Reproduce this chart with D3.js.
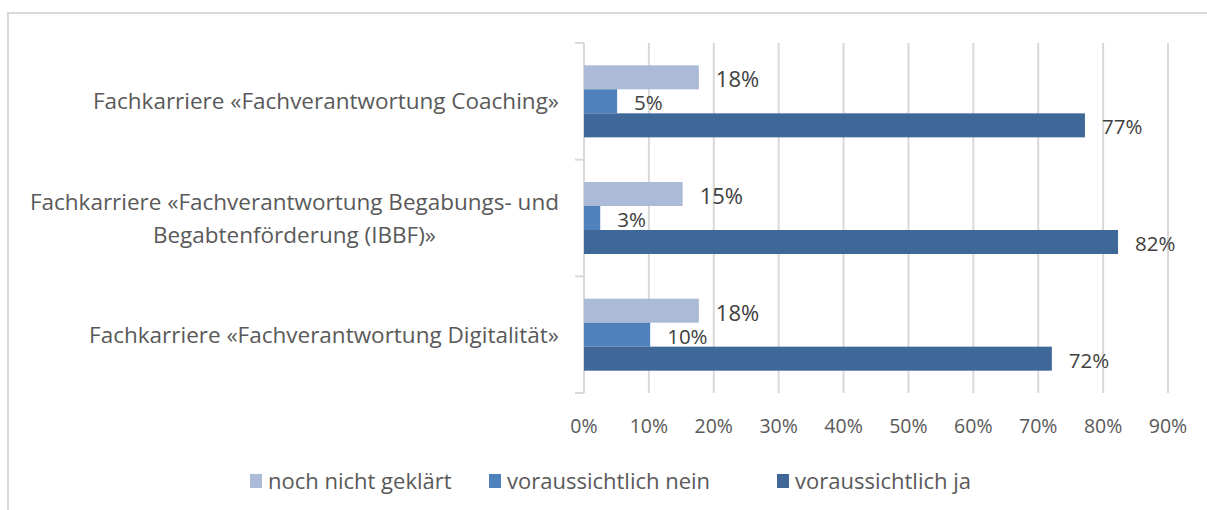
<!DOCTYPE html>
<html>
<head>
<meta charset="utf-8">
<script src="https://cdn.jsdelivr.net/npm/d3@7"></script>
<style>
  body { margin: 0; background: #fff; }
  svg { display: block; font-family: "Open Sans", "Noto Sans", sans-serif; }
</style>
</head>
<body>
<svg id="chart" width="1207" height="510"></svg>
<script>
// categories top to bottom (label lines)
const categories = [
  ["Fachkarriere «Fachverantwortung Coaching»"],
  ["Fachkarriere «Fachverantwortung Begabungs- und", "Begabtenförderung (IBBF)»"],
  ["Fachkarriere «Fachverantwortung Digitalität»"]
];
const seriesNames = ["noch nicht geklärt", "voraussichtlich nein", "voraussichtlich ja"];
const nochNicht = [0.177, 0.152, 0.177];
const nein = [0.051, 0.025, 0.102];
const ja = [0.772, 0.823, 0.721];
const xTicks = [0, 0.1, 0.2, 0.3, 0.4, 0.5, 0.6, 0.7, 0.8, 0.9];
const colors = ["#abbad7", "#4f81bd", "#3f6797"];

const svg = d3.select("#chart");
const textColor = "#595959";

// outer frame of the chart
svg.append("rect")
  .attr("x", 8).attr("y", 13)
  .attr("width", 1220).attr("height", 520)
  .attr("fill", "none")
  .attr("stroke", "#d9d9d9")
  .attr("stroke-width", 2);

const x = d3.scaleLinear().domain([0, 0.9]).range([584, 1168]);
const catIdx = categories.map((d, i) => i);
const y0 = d3.scaleBand().domain(catIdx).range([43, 393]);
const y1 = d3.scaleBand().domain([0, 1, 2]).range([0, y0.bandwidth()]).paddingOuter(0.93);

// gridlines
svg.append("g")
  .selectAll("line")
  .data(xTicks.slice(1))
  .join("line")
  .attr("x1", d => x(d)).attr("x2", d => x(d))
  .attr("y1", 43).attr("y2", 393)
  .attr("stroke", "#d9d9d9")
  .attr("stroke-width", 2);

// x tick labels
svg.append("g")
  .selectAll("text")
  .data(xTicks)
  .join("text")
  .attr("x", d => x(d))
  .attr("y", 433)
  .attr("text-anchor", "middle")
  .attr("font-size", "19.5px")
  .attr("fill", textColor)
  .text(d => Math.round(d * 100) + "%");

// vertical axis with category separators
const axisG = svg.append("g");
axisG.append("line")
  .attr("x1", 584).attr("x2", 584)
  .attr("y1", 43).attr("y2", 393)
  .attr("stroke", "#d9d9d9").attr("stroke-width", 2);
axisG.selectAll("line.tick")
  .data([0, 1, 2, 3])
  .join("line")
  .attr("class", "tick")
  .attr("x1", 575).attr("x2", 584)
  .attr("y1", d => d < 3 ? y0(d) : y0(2) + y0.bandwidth())
  .attr("y2", d => d < 3 ? y0(d) : y0(2) + y0.bandwidth())
  .attr("stroke", "#d9d9d9").attr("stroke-width", 2);

// category labels
const catLabels = svg.append("g")
  .selectAll("text")
  .data(categories)
  .join("text")
  .attr("font-size", "22.5px")
  .attr("fill", textColor);

catLabels.each(function (lines, i) {
  const t = d3.select(this);
  const cy = y0(i) + y0.bandwidth() / 2;
  const lh = 33;
  const startY = cy - (lines.length - 1) * lh / 2 + 8;
  if (lines.length === 1) {
    t.attr("text-anchor", "end");
    t.append("tspan").attr("x", 559).attr("y", startY).text(lines[0]);
  } else {
    t.attr("text-anchor", "middle");
    lines.forEach((ln, k) => {
      t.append("tspan").attr("class", "ln").attr("y", startY + k * lh).text(ln);
    });
  }
});
// center multi-line label block, right edge at 559
catLabels.each(function () {
  const t = d3.select(this);
  const spans = t.selectAll("tspan.ln");
  if (spans.empty()) return;
  let maxW = 0;
  spans.each(function () { maxW = Math.max(maxW, this.getComputedTextLength()); });
  spans.attr("x", 559 - maxW / 2);
});

// bars
const rows = categories.map((c, i) => [nochNicht[i], nein[i], ja[i]]);
const groups = svg.append("g")
  .selectAll("g")
  .data(rows)
  .join("g")
  .attr("transform", (d, i) => "translate(0," + y0(i) + ")");

groups.selectAll("rect")
  .data(d => d)
  .join("rect")
  .attr("x", x(0))
  .attr("y", (d, j) => y1(j))
  .attr("width", d => x(d) - x(0))
  .attr("height", y1.bandwidth())
  .attr("fill", (d, j) => colors[j]);

groups.selectAll("text")
  .data(d => d)
  .join("text")
  .attr("x", d => x(d) + 17)
  .attr("y", (d, j) => y1(j) + y1.bandwidth() / 2 + (j === 0 ? 10 : 9))
  .attr("font-size", (d, j) => j === 0 ? "22px" : "20.5px")
  .attr("fill", "#404040")
  .text(d => Math.round(d * 100) + "%");

// legend
const legendX = [250, 489, 777];
const legend = svg.append("g")
  .selectAll("g")
  .data(seriesNames)
  .join("g")
  .attr("transform", (d, i) => "translate(" + legendX[i] + ",474)");
legend.append("rect")
  .attr("width", 12).attr("height", 14)
  .attr("fill", (d, i) => colors[i]);
legend.append("text")
  .attr("x", 18).attr("y", 15)
  .attr("font-size", "22px")
  .attr("fill", textColor)
  .text(d => d);
</script>
</body>
</html>
